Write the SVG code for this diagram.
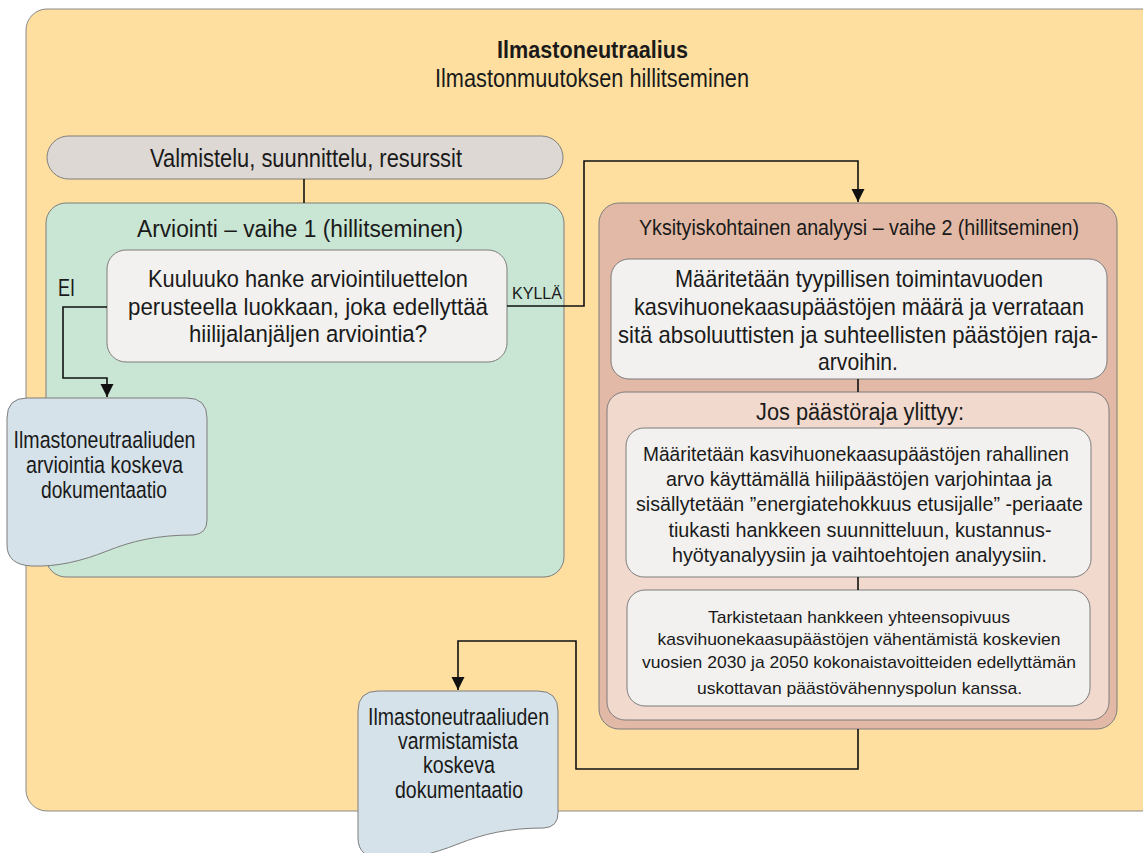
<svg xmlns="http://www.w3.org/2000/svg" width="1143" height="853" viewBox="0 0 1143 853">
  <defs>
    <style>
      text { font-family: "Liberation Sans", Arial, sans-serif; fill: #1a1a1a; }
      .c { text-anchor: middle; }
      .box { stroke: #7d7d7d; stroke-width: 1; }
      .wire { fill: none; stroke: #111; stroke-width: 1.6; }
    </style>
    <marker id="arrow" markerUnits="userSpaceOnUse" markerWidth="14" markerHeight="14" refX="13" refY="6.5" orient="auto">
      <path d="M0,0 L13,6.5 L0,13 Z" fill="#111"/>
    </marker>
    <path id="docShape" d="M20,0 H180 Q200,0 200,20 V122 Q200,136 186,137 C150,137 125,143 100,153 C75,163 50,169 25,168 Q0,167 0,147 V20 Q0,0 20,0 Z"/>
  </defs>

  <!-- background frame -->
  <g id="frame">
    <rect x="26" y="9" width="1140" height="802" rx="21" fill="#fedfa0" stroke="#8a8a8a" stroke-width="1"/>
    <text class="c" x="592.5" y="58" font-size="24" font-weight="bold" textLength="191" lengthAdjust="spacingAndGlyphs">Ilmastoneutraalius</text>
    <text class="c" x="592" y="87" font-size="25" textLength="314" lengthAdjust="spacingAndGlyphs">Ilmastonmuutoksen hillitseminen</text>
  </g>

  <g id="prep">
    <rect class="box" x="47" y="136" width="516" height="43" rx="21.5" fill="#ddd8d4"/>
    <text class="c" x="306" y="167" font-size="25" textLength="312" lengthAdjust="spacingAndGlyphs">Valmistelu, suunnittelu, resurssit</text>
  </g>

  <g id="phase1">
    <rect class="box" x="46" y="203" width="518" height="374" rx="20" fill="#c9e5d3"/>
    <text class="c" x="300" y="237" font-size="23.5" textLength="326" lengthAdjust="spacingAndGlyphs">Arviointi – vaihe 1 (hillitseminen)</text>
  </g>

  <g id="question">
    <rect class="box" x="107" y="250" width="400" height="112" rx="19" fill="#f2f1ef"/>
    <text class="c" x="308" y="287" font-size="24.5" textLength="320" lengthAdjust="spacingAndGlyphs">Kuuluuko hanke arviointiluettelon</text>
    <text class="c" x="308" y="315" font-size="24.5" textLength="360" lengthAdjust="spacingAndGlyphs">perusteella luokkaan, joka edellyttää</text>
    <text class="c" x="308" y="342" font-size="24.5" textLength="238" lengthAdjust="spacingAndGlyphs">hiilijalanjäljen arviointia?</text>
  </g>

  <g id="doc1">
    <use href="#docShape" x="7" y="398" fill="#d6e2e9" stroke="#7d7d7d" stroke-width="1"/>
    <text class="c" x="104.5" y="448" font-size="24.5" textLength="182" lengthAdjust="spacingAndGlyphs">Ilmastoneutraaliuden</text>
    <text class="c" x="104.5" y="473" font-size="24.5" textLength="157" lengthAdjust="spacingAndGlyphs">arviointia koskeva</text>
    <text class="c" x="104" y="498" font-size="24.5" textLength="126" lengthAdjust="spacingAndGlyphs">dokumentaatio</text>
  </g>

  <g id="phase2">
    <rect class="box" x="599" y="203" width="518" height="526" rx="20" fill="#e2b9a6"/>
    <text class="c" x="859" y="235" font-size="22.5" textLength="440" lengthAdjust="spacingAndGlyphs">Yksityiskohtainen analyysi – vaihe 2 (hillitseminen)</text>
  </g>

  <g id="quantify">
    <rect class="box" x="611" y="259" width="496" height="120" rx="18" fill="#f2f1ef"/>
    <text class="c" x="859" y="287" font-size="24" textLength="368" lengthAdjust="spacingAndGlyphs">Määritetään tyypillisen toimintavuoden</text>
    <text class="c" x="859" y="315" font-size="24" textLength="450" lengthAdjust="spacingAndGlyphs">kasvihuonekaasupäästöjen määrä ja verrataan</text>
    <text class="c" x="858" y="343" font-size="24" textLength="480" lengthAdjust="spacingAndGlyphs">sitä absoluuttisten ja suhteellisten päästöjen raja-</text>
    <text class="c" x="858" y="370" font-size="24" textLength="80" lengthAdjust="spacingAndGlyphs">arvoihin.</text>
  </g>

  <g id="exceeded">
    <rect class="box" x="607" y="392" width="502" height="328" rx="18" fill="#f1d9cd"/>
    <text class="c" x="860" y="420" font-size="23.5" textLength="208" lengthAdjust="spacingAndGlyphs">Jos päästöraja ylittyy:</text>
  </g>

  <g id="pricing">
    <rect class="box" x="626" y="428" width="465" height="149" rx="18" fill="#f2f1ef"/>
    <text class="c" x="856" y="461" font-size="20.5" textLength="426" lengthAdjust="spacingAndGlyphs">Määritetään kasvihuonekaasupäästöjen rahallinen</text>
    <text class="c" x="859" y="486" font-size="20.5" textLength="386" lengthAdjust="spacingAndGlyphs">arvo käyttämällä hiilipäästöjen varjohintaa ja</text>
    <text class="c" x="859.5" y="511" font-size="20.5" textLength="447" lengthAdjust="spacingAndGlyphs">sisällytetään ”energiatehokkuus etusijalle” -periaate</text>
    <text class="c" x="860" y="537" font-size="20.5" textLength="383" lengthAdjust="spacingAndGlyphs">tiukasti hankkeen suunnitteluun, kustannus-</text>
    <text class="c" x="859.5" y="562" font-size="20.5" textLength="375" lengthAdjust="spacingAndGlyphs">hyötyanalyysiin ja vaihtoehtojen analyysiin.</text>
  </g>

  <g id="pathway">
    <rect class="box" x="627" y="590" width="463" height="116" rx="18" fill="#f2f1ef"/>
    <text class="c" x="859" y="623" font-size="17" textLength="302" lengthAdjust="spacingAndGlyphs">Tarkistetaan hankkeen yhteensopivuus</text>
    <text class="c" x="859" y="645" font-size="17" textLength="403" lengthAdjust="spacingAndGlyphs">kasvihuonekaasupäästöjen vähentämistä koskevien</text>
    <text class="c" x="859" y="668" font-size="17" textLength="434" lengthAdjust="spacingAndGlyphs">vuosien 2030 ja 2050 kokonaistavoitteiden edellyttämän</text>
    <text class="c" x="859.5" y="694" font-size="17" textLength="325" lengthAdjust="spacingAndGlyphs">uskottavan päästövähennyspolun kanssa.</text>
  </g>

  <g id="doc2">
    <use href="#docShape" x="358" y="691" fill="#d6e2e9" stroke="#7d7d7d" stroke-width="1"/>
    <text class="c" x="458.5" y="725" font-size="24.5" textLength="181" lengthAdjust="spacingAndGlyphs">Ilmastoneutraaliuden</text>
    <text class="c" x="458" y="749" font-size="24.5" textLength="120" lengthAdjust="spacingAndGlyphs">varmistamista</text>
    <text class="c" x="459" y="773" font-size="24.5" textLength="72" lengthAdjust="spacingAndGlyphs">koskeva</text>
    <text class="c" x="459" y="798" font-size="24.5" textLength="128" lengthAdjust="spacingAndGlyphs">dokumentaatio</text>
  </g>

  <g id="connectors">
    <path class="wire" d="M304,179 V203"/>
    <path class="wire" d="M107,307 H63 V378 H107 V397" marker-end="url(#arrow)"/>
    <path class="wire" d="M507,306 H584 V161 H858 V202" marker-end="url(#arrow)"/>
    <path class="wire" d="M858,379 V392"/>
    <path class="wire" d="M858,577 V590"/>
    <path class="wire" d="M858,729 V769 H576 V641 H458 V690" marker-end="url(#arrow)"/>
    <text x="58" y="296" font-size="23" textLength="17" lengthAdjust="spacingAndGlyphs">EI</text>
    <text x="512" y="299" font-size="17" textLength="50" lengthAdjust="spacingAndGlyphs">KYLLÄ</text>
  </g>
</svg>
